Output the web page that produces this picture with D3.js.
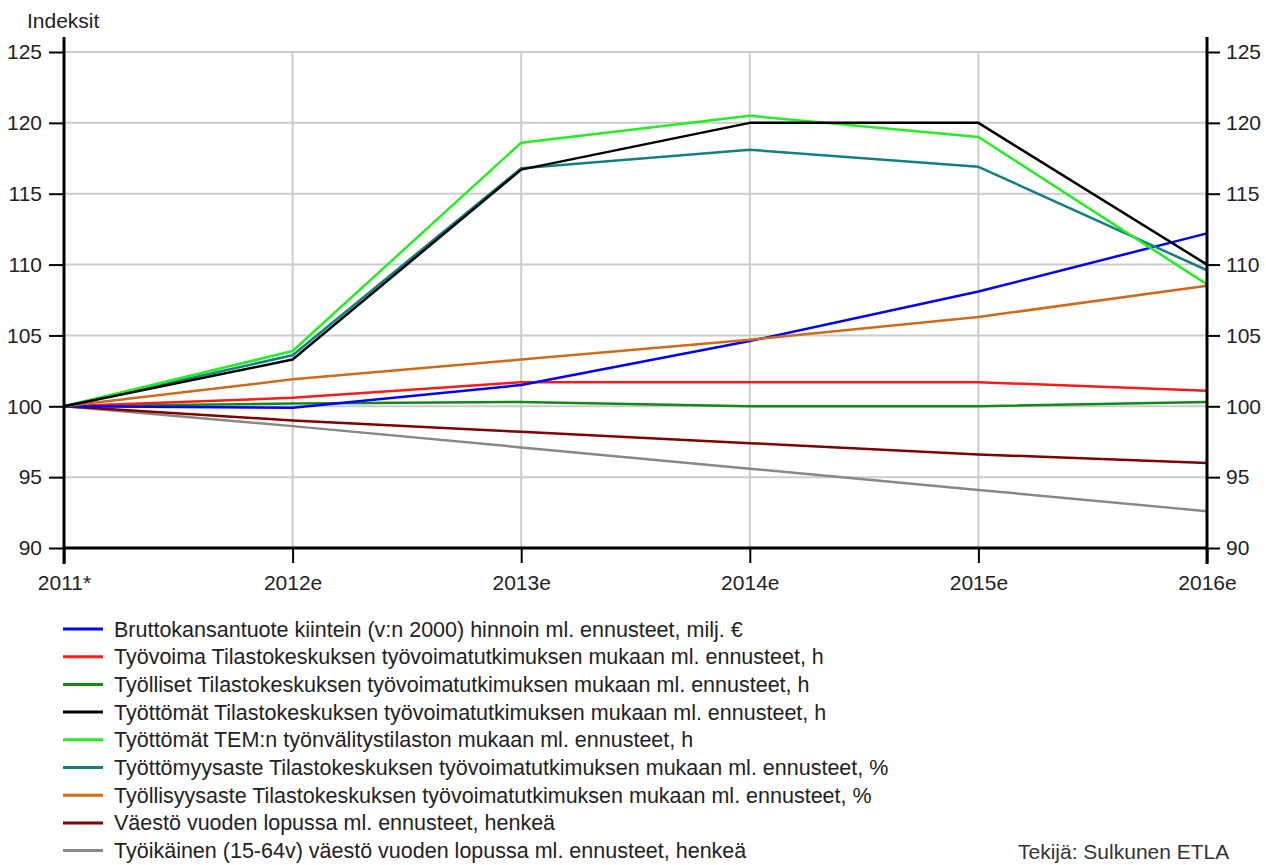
<!DOCTYPE html>
<html>
<head>
<meta charset="utf-8">
<script src="https://cdn.jsdelivr.net/npm/d3@7"></script>
<style>
  html, body { margin: 0; padding: 0; background: #fff; }
  svg { display: block; font-family: "Liberation Sans", Arial, sans-serif; }
</style>
</head>
<body>
<svg id="chart" width="1266" height="865"></svg>
<script>
const categories = ["2011*", "2012e", "2013e", "2014e", "2015e", "2016e"];
const yTicks = [90, 95, 100, 105, 110, 115, 120, 125];

const seriesNames = [
  "Bruttokansantuote kiintein (v:n 2000) hinnoin ml. ennusteet, milj. €",
  "Työvoima Tilastokeskuksen työvoimatutkimuksen mukaan ml. ennusteet, h",
  "Työlliset Tilastokeskuksen työvoimatutkimuksen mukaan ml. ennusteet, h",
  "Työttömät Tilastokeskuksen työvoimatutkimuksen mukaan ml. ennusteet, h",
  "Työttömät TEM:n työnvälitystilaston mukaan ml. ennusteet, h",
  "Työttömyysaste Tilastokeskuksen työvoimatutkimuksen mukaan ml. ennusteet, %",
  "Työllisyysaste Tilastokeskuksen työvoimatutkimuksen mukaan ml. ennusteet, %",
  "Väestö vuoden lopussa ml. ennusteet, henkeä",
  "Työikäinen (15-64v) väestö vuoden lopussa ml. ennusteet, henkeä"
];
const seriesColors = ["#0000ff", "#ff1a1a", "#138a13", "#000000", "#22ee22", "#128080", "#d06a1a", "#800000", "#888888"];

const bkt        = [100, 99.9, 101.5, 104.6, 108.1, 112.2];
const tyovoima   = [100, 100.6, 101.7, 101.7, 101.7, 101.1];
const tyolliset  = [100, 100.2, 100.3, 100.0, 100.0, 100.3];
const tyottomat  = [100, 103.3, 116.7, 120.0, 120.0, 110.0];
const tyottomatT = [100, 103.9, 118.6, 120.5, 119.0, 108.6];
const tyottAste  = [100, 103.6, 116.8, 118.1, 116.9, 109.6];
const tyollAste  = [100, 101.9, 103.3, 104.7, 106.3, 108.5];
const vaesto     = [100, 99.0, 98.2, 97.4, 96.6, 96.0];
const tyoikainen = [100, 98.6, 97.1, 95.6, 94.1, 92.6];

const sourceText = "Tekijä: Sulkunen ETLA";

const seriesValues = [bkt, tyovoima, tyolliset, tyottomat, tyottomatT, tyottAste, tyollAste, vaesto, tyoikainen];
const drawOrder = [8, 7, 2, 1, 0, 6, 5, 4, 3];

const svg = d3.select("#chart");
const mLeft = 64, mRight = 1207, mTop = 52, mBottom = 548;
const fontSize = 21;
const legendFont = 21.5;
const fontFam = "'Liberation Sans', Arial, sans-serif";

const x = d3.scalePoint().domain(categories).range([mLeft, mRight]);
const y = d3.scaleLinear().domain([90, 125]).range([mBottom, mTop]);

// gridlines
const grid = svg.append("g");
grid.selectAll("line.h").data(yTicks).join("line").attr("class", "h")
  .attr("x1", mLeft).attr("x2", mRight)
  .attr("y1", d => y(d)).attr("y2", d => y(d))
  .attr("stroke", "#cccccc").attr("stroke-width", 2);
grid.selectAll("line.v").data(categories).join("line").attr("class", "v")
  .attr("x1", d => x(d)).attr("x2", d => x(d))
  .attr("y1", mTop).attr("y2", mBottom)
  .attr("stroke", "#cccccc").attr("stroke-width", 2);

// series lines
const line = d3.line().x((d, i) => x(categories[i])).y(d => y(d));
svg.append("g").selectAll("path").data(drawOrder).join("path")
  .attr("d", i => line(seriesValues[i]))
  .attr("fill", "none")
  .attr("stroke", i => seriesColors[i])
  .attr("stroke-width", 2.5)
  .attr("stroke-linejoin", "round");

// axes
const yl = svg.append("g").attr("transform", `translate(${mLeft},0)`)
  .call(d3.axisLeft(y).tickValues(yTicks).tickSize(15).tickPadding(5).tickSizeOuter(0));
const yr = svg.append("g").attr("transform", `translate(${mRight},0)`)
  .call(d3.axisRight(y).tickValues(yTicks).tickSize(13).tickPadding(5).tickSizeOuter(0));
const xa = svg.append("g").attr("transform", `translate(0,${mBottom})`)
  .call(d3.axisBottom(x).tickSize(15).tickPadding(12).tickSizeOuter(0));

[yl, yr, xa].forEach(g => {
  g.select(".domain").remove();
  g.selectAll(".tick line").attr("stroke", "#000").attr("stroke-width", 2);
  g.selectAll(".tick text").attr("fill", "#222").style("font-size", fontSize + "px")
    .style("font-family", fontFam);
});
yl.selectAll(".tick text").attr("dx", "-2");
yr.selectAll(".tick text").attr("dx", "1");

// axis frame lines
svg.append("line").attr("x1", mLeft).attr("x2", mLeft).attr("y1", 37).attr("y2", 564)
  .attr("stroke", "#000").attr("stroke-width", 3);
svg.append("line").attr("x1", mRight).attr("x2", mRight).attr("y1", 37).attr("y2", 564)
  .attr("stroke", "#000").attr("stroke-width", 3);
svg.append("line").attr("x1", mLeft).attr("x2", mRight).attr("y1", mBottom).attr("y2", mBottom)
  .attr("stroke", "#000").attr("stroke-width", 3);

// axis title
svg.append("text").attr("x", 27).attr("y", 28).text("Indeksit")
  .attr("fill", "#222").style("font-size", fontSize + "px");

// legend
const legend = svg.append("g");
const rows = legend.selectAll("g").data(seriesNames).join("g")
  .attr("transform", (d, i) => `translate(63,${629 + i * 27.7})`);
rows.append("line").attr("x1", 0).attr("x2", 40).attr("y1", 0).attr("y2", 0)
  .attr("stroke", (d, i) => seriesColors[i]).attr("stroke-width", 3);
rows.append("text").attr("x", 51).attr("y", 7.5).text(d => d)
  .attr("fill", "#222").style("font-size", legendFont + "px");

// source
svg.append("text").attr("x", 1018).attr("y", 859).text(sourceText)
  .attr("fill", "#333").style("font-size", "21px");
</script>
</body>
</html>
